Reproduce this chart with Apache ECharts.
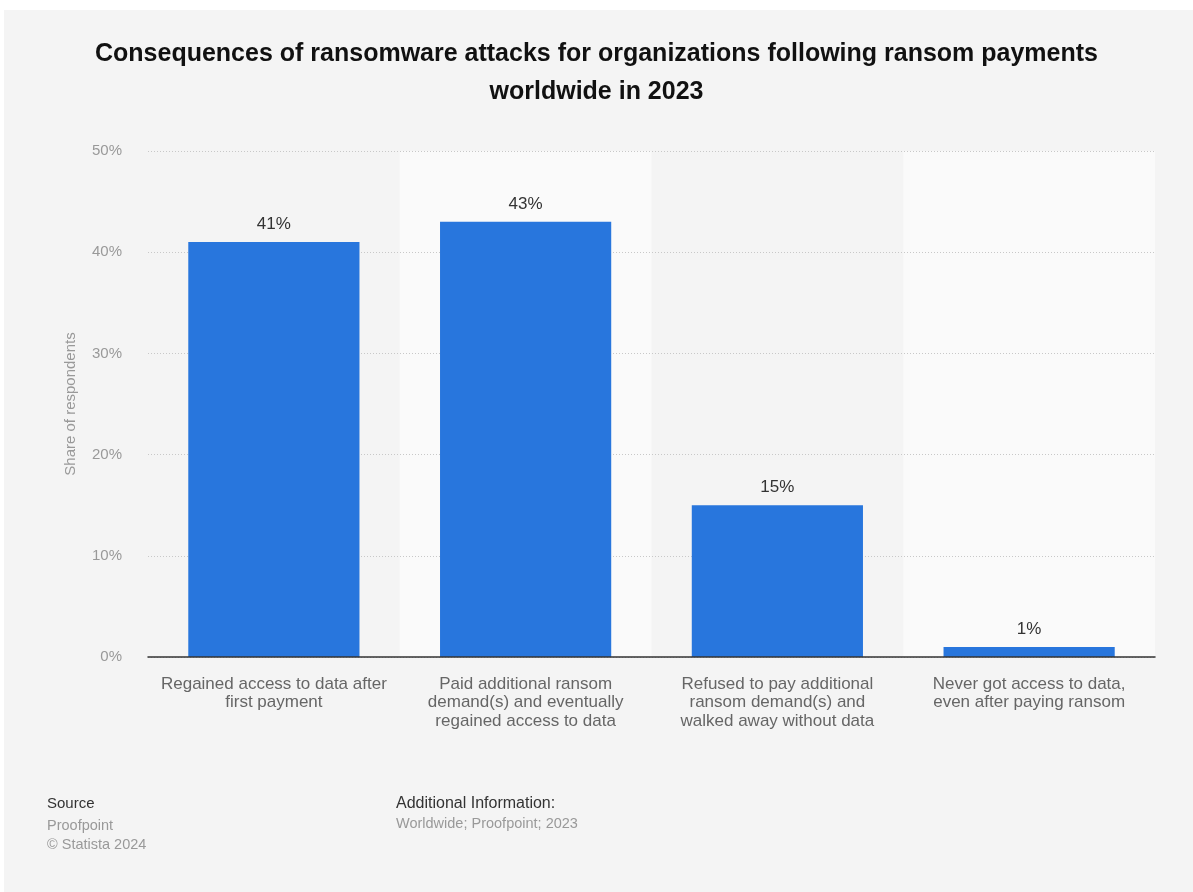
<!DOCTYPE html>
<html>
<head>
<meta charset="utf-8">
<script src="https://cdn.jsdelivr.net/npm/echarts@6/dist/echarts.min.js"></script>
<style>
html,body{margin:0;padding:0;background:#ffffff;}
#chart{width:1193px;height:892px;}
</style>
</head>
<body>
<div id="chart"></div>
<script>
const categories = [
  "Regained access to data after\nfirst payment",
  "Paid additional ransom\ndemand(s) and eventually\nregained access to data",
  "Refused to pay additional\nransom demand(s) and\nwalked away without data",
  "Never got access to data,\neven after paying ransom"
];
const values = [41, 43, 15, 1];
const yTicks = [0, 10, 20, 30, 40, 50];
const titleText = "Consequences of ransomware attacks for organizations following ransom payments\nworldwide in 2023";
const yAxisName = "Share of respondents";

const font = "'Liberation Sans', Arial, sans-serif";
const chart = echarts.init(document.getElementById('chart'), null, {renderer: 'canvas'});
chart.setOption({
  backgroundColor: '#ffffff',
  animation: false,
  graphic: [
    {type: 'rect', shape: {x: 4, y: 10, width: 1189, height: 882}, style: {fill: '#f4f4f4'}, z: -10, silent: true},
    {type: 'text', left: 47, top: 796, style: {text: 'Source', font: '15px ' + font, fill: '#333'}},
    {type: 'text', left: 47, top: 816, style: {text: 'Proofpoint\n© Statista 2024', font: '14.5px ' + font, fill: '#999', lineHeight: 19}},
    {type: 'text', left: 396, top: 796, style: {text: 'Additional Information:', font: '16px ' + font, fill: '#333'}},
    {type: 'text', left: 396, top: 816, style: {text: 'Worldwide; Proofpoint; 2023', font: '14.5px ' + font, fill: '#999'}}
  ],
  title: {
    text: titleText,
    left: 'center',
    top: 30,
    textStyle: {fontFamily: font, fontSize: 25, fontWeight: 'bold', color: '#111', lineHeight: 38}
  },
  grid: {left: 148, right: 38, top: 151, bottom: 235, containLabel: false},
  xAxis: [{
    type: 'category',
    data: categories,
    axisLine: {show: false},
    axisTick: {show: false},
    axisLabel: {color: '#666', fontFamily: font, fontSize: 17, lineHeight: 18.5, margin: 18, interval: 0},
    splitArea: {show: true, interval: 0, areaStyle: {color: ['rgba(0,0,0,0)', '#fafafa']}},
    z: 0
  }, {
    type: 'category',
    data: categories,
    position: 'bottom',
    axisLine: {show: true, lineStyle: {color: '#333', width: 1.5}},
    axisTick: {show: false},
    axisLabel: {show: false},
    splitArea: {show: false},
    z: 5
  }],
  yAxis: {
    type: 'value',
    min: yTicks[0],
    max: yTicks[yTicks.length - 1],
    interval: 10,
    name: yAxisName,
    nameLocation: 'middle',
    nameGap: 70,
    nameTextStyle: {color: '#999', fontFamily: font, fontSize: 15},
    axisLine: {show: false},
    axisTick: {show: false},
    axisLabel: {color: '#999', fontFamily: font, fontSize: 15, margin: 26, formatter: v => v + '%'},
    splitLine: {show: true, lineStyle: {color: '#c8c8c8', type: [1, 2], width: 1}},
    z: 1
  },
  series: [{
    type: 'bar',
    data: values,
    barWidth: '68%',
    itemStyle: {color: '#2876dd'},
    label: {show: true, position: 'top', distance: 9, color: '#333', fontFamily: font, fontSize: 17, formatter: p => p.value + '%'},
    z: 2
  }]
});
</script>
</body>
</html>
